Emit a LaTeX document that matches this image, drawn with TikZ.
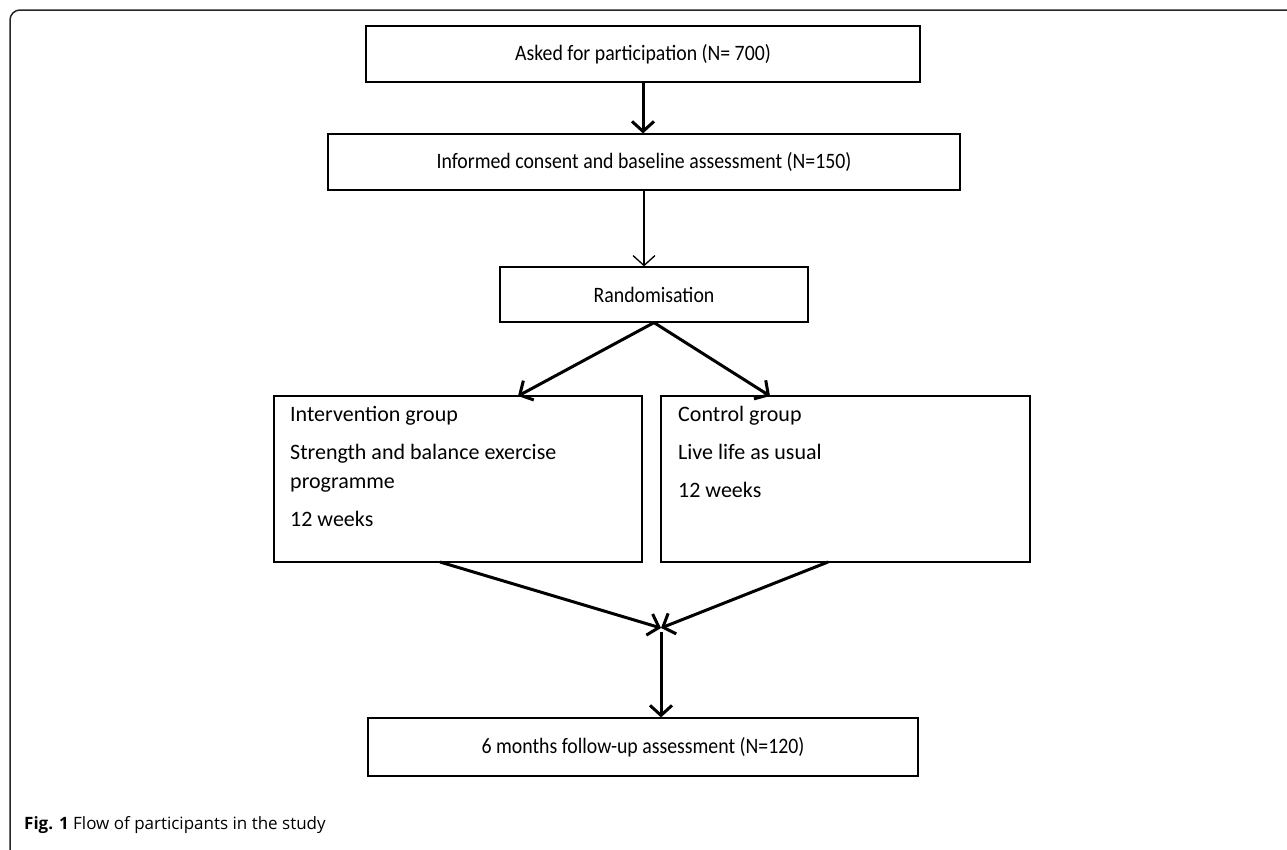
\documentclass[tikz,border=0pt]{standalone}
\usepackage{fontspec}
\setmainfont{Carlito}
\newfontfamily\stagefont[FakeStretch=0.9]{Carlito}
\newfontfamily\capfont{Open Sans}
\usetikzlibrary{arrows.meta}
\tikzset{
  stagebox/.style={draw, line width=1.2pt, minimum width=#1, minimum height=56pt,
    inner sep=0pt, font=\stagefont\fontsize{22}{26}\selectfont},
  groupbox/.style={draw, line width=1.2pt, minimum width=#1, minimum height=166pt, inner sep=0pt},
  grouptext/.style={anchor=north west, align=left, inner sep=0pt, font=\fontsize{22}{29}\selectfont},
  boldarrow/.style={line width=3pt, -{Straight Barb[length=10pt,width=22pt]}},
  thinarrow/.style={line width=1.3pt, -{Straight Barb[length=10pt,width=22pt]}}
}
\begin{document}
\begin{tikzpicture}[x=1pt,y=-1pt]
  \useasboundingbox (0,0) rectangle (1287,849);
  % frame round the figure
  \draw[line width=1.5pt, black!85, rounded corners=10pt] (1300,10) -- (10,10) -- (10,859) -- (1300,859);
  % stages
  \node[stagebox=554] (ask) at (643,54) {Asked for participation (N= 700)};
  \node[stagebox=632] (consent) at (644,162) {Informed consent and baseline assessment (N=150)};
  \node[stagebox=308, minimum height=55pt] (rand) at (654,294.5) {Randomisation};
  \node[groupbox=368] (interv) at (458,479) {};
  \node[groupbox=369] (ctrl) at (845.5,479) {};
  \node[stagebox=550, minimum height=58pt] (follow) at (643,747) {6 months follow-up assessment (N=120)};
  \node[grouptext] (intervtext) at (290,406) {Intervention group\\[9pt]Strength and balance exercise\\programme\\[9pt]12 weeks};
  \node[grouptext] (ctrltext) at (678,406) {Control group\\[9pt]Live life as usual\\[9pt]12 weeks};
  % arrow ends
  \coordinate (landL) at (518,396);
  \coordinate (landR) at (770,396);
  \coordinate (outL) at (440,562);
  \coordinate (outR) at (828,562);
  \coordinate (meet) at (661,628);
  % connectors
  \draw[boldarrow] (ask.south) -- (ask.south |- consent.north);
  \draw[thinarrow] (consent.south) -- (consent.south |- rand.north);
  \draw[boldarrow] (rand.south) -- (landL);
  \draw[boldarrow] (rand.south) -- (landR);
  \draw[boldarrow] (outL) -- (meet);
  \draw[boldarrow] (outR) -- (meet);
  \draw[boldarrow] ([yshift=-4pt]meet) -- (meet |- follow.north);
  % caption
  \node[anchor=base west, inner sep=0pt, font=\capfont\fontsize{17}{20}\selectfont] (caption) at (24,829)
    {\textbf{Fig. 1} Flow of participants in the study};
\end{tikzpicture}
\end{document}
